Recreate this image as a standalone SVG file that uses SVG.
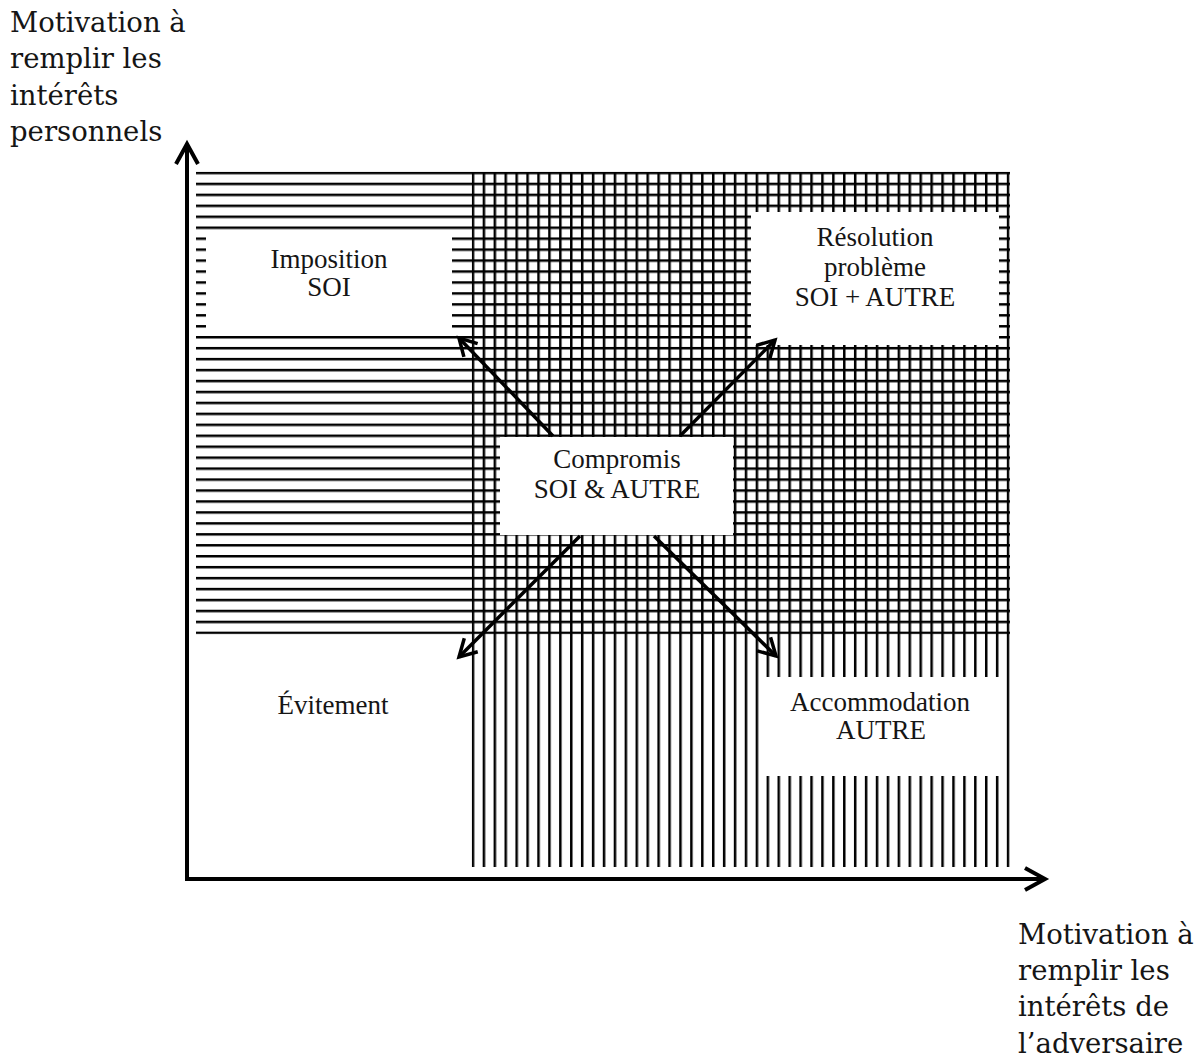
<svg xmlns="http://www.w3.org/2000/svg" width="1202" height="1059" viewBox="0 0 1202 1059">
<style>
.box{fill:#ffffff;stroke:none}
.lbl{font-family:"Liberation Serif","Times New Roman",serif;font-size:27px;fill:#151515;text-anchor:middle}
.ax{font-family:"DejaVu Serif","Liberation Serif",serif;font-size:27.5px;fill:#151515}
.axis{stroke:#000;stroke-width:4;fill:none}
.arr{stroke:#000;stroke-width:3.5;fill:none}
</style>
<defs>
<pattern id="hstripe" patternUnits="userSpaceOnUse" x="0" y="171.75" width="20" height="10.95">
<rect x="0" y="0" width="20" height="2.5" fill="#000"/>
</pattern>
<pattern id="vstripe" patternUnits="userSpaceOnUse" x="471.75" y="0" width="10.92" height="20">
<rect x="0" y="0" width="2.5" height="20" fill="#000"/>
</pattern>
<marker id="axhead" markerUnits="userSpaceOnUse" viewBox="-26 -15 30 30" refX="0" refY="0" markerWidth="30" markerHeight="30" orient="auto" overflow="visible">
<path d="M-20,-11 L0,0 L-20,11" fill="none" stroke="#000" stroke-width="4" stroke-linejoin="miter"/>
</marker>
<marker id="arhead" markerUnits="userSpaceOnUse" viewBox="-22 -13 26 26" refX="0" refY="0" markerWidth="26" markerHeight="26" orient="auto" overflow="visible">
<path d="M-17,-9.5 L0,0 L-17,9.5" fill="none" stroke="#000" stroke-width="3.5" stroke-linejoin="miter"/>
</marker>
</defs>
<rect x="0" y="0" width="1202" height="1059" fill="#ffffff"/>
<g id="hatching">
<rect x="196" y="171.75" width="814" height="462.5" fill="url(#hstripe)"/>
<rect x="471.75" y="173" width="538" height="694" fill="url(#vstripe)"/>
</g>
<g id="imposition">
<rect class="box" x="206" y="231" width="246" height="102"/>
<text class="lbl" x="329" y="268">Imposition</text>
<text class="lbl" x="329" y="296">SOI</text>
</g>
<g id="resolution">
<rect class="box" x="751" y="212" width="248" height="133"/>
<text class="lbl" x="875" y="246">Résolution</text>
<text class="lbl" x="875" y="276">problème</text>
<text class="lbl" x="875" y="306">SOI + AUTRE</text>
</g>
<g id="compromis">
<rect class="box" x="500" y="437" width="233" height="98"/>
<text class="lbl" x="617" y="468">Compromis</text>
<text class="lbl" x="617" y="498">SOI &amp; AUTRE</text>
</g>
<g id="evitement">
<text class="lbl" x="333" y="714">Évitement</text>
</g>
<g id="accommodation">
<rect class="box" x="759" y="677" width="241" height="99"/>
<text class="lbl" x="880" y="711">Accommodation</text>
<text class="lbl" x="881" y="739">AUTRE</text>
</g>
<g id="connectors">
<line class="arr" x1="553" y1="436" x2="459" y2="338" marker-end="url(#arhead)"/>
<line class="arr" x1="680" y1="436" x2="775" y2="340" marker-end="url(#arhead)"/>
<line class="arr" x1="580" y1="536" x2="459" y2="657" marker-end="url(#arhead)"/>
<line class="arr" x1="654" y1="536" x2="776" y2="656" marker-end="url(#arhead)"/>
<polyline class="axis" points="187,145 187,879 1045,879" stroke-linejoin="miter"/>
<line class="axis" x1="187" y1="160" x2="187" y2="144" marker-end="url(#axhead)"/>
<line class="axis" x1="1030" y1="879" x2="1045" y2="879" marker-end="url(#axhead)"/>
</g>
<g id="y-axis-label">
<text class="ax" x="10" y="32">Motivation à</text>
<text class="ax" x="10" y="68">remplir les</text>
<text class="ax" x="10" y="105">intérêts</text>
<text class="ax" x="10" y="141">personnels</text>
</g>
<g id="x-axis-label">
<text class="ax" x="1018" y="944">Motivation à</text>
<text class="ax" x="1018" y="980">remplir les</text>
<text class="ax" x="1018" y="1016">intérêts de</text>
<text class="ax" x="1018" y="1053">l’adversaire</text>
</g>
</svg>
